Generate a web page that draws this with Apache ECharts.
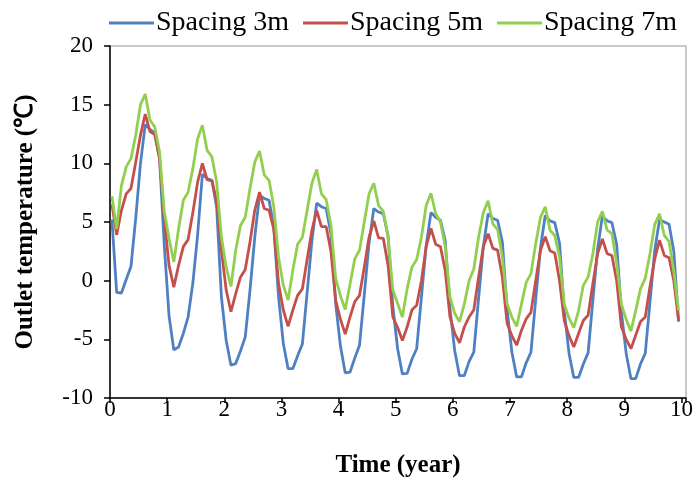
<!DOCTYPE html>
<html>
<head>
<meta charset="utf-8">
<script src="https://cdn.jsdelivr.net/npm/echarts@6/dist/echarts.min.js"></script>
<style>
  html, body { margin: 0; padding: 0; background: #fff; }
  #chart { width: 699px; height: 484px; }
</style>
</head>
<body>
<div id="chart"></div>
<script>
// Monthly outlet temperature (°C) over ten years of operation, for three borehole spacings.
const seriesNames = ['Spacing 3m', 'Spacing 5m', 'Spacing 7m'];
const xTicks = [0, 1, 2, 3, 4, 5, 6, 7, 8, 9, 10];
const yTicks = [-10, -5, 0, 5, 10, 15, 20];

// month index 0..119
const monthIndex = Array.from({ length: 120 }, (_, i) => i);

const spacing3m = [
  5.2, -1.0, -1.05, 0.1, 1.2, 5.3, 10.0, 13.3, 12.9, 12.6, 10.5, 3.0,
  -3.0, -5.9, -5.65, -4.5, -3.1, -0.2, 3.9, 9.07, 8.7, 8.56, 6.25, -1.4,
  -5.1, -7.2, -7.07, -6.0, -4.8, -0.8, 3.7, 7.3, 7.0, 6.85, 4.6, -1.4,
  -5.35, -7.5, -7.5, -6.4, -5.4, -1.0, 3.4, 6.6, 6.3, 6.15, 4.0, -2.0,
  -5.6, -7.85, -7.8, -6.6, -5.5, -1.2, 3.2, 6.15, 5.85, 5.7, 3.8, -2.2,
  -5.8, -7.95, -7.9, -6.7, -5.8, -1.4, 3.0, 5.8, 5.4, 5.15, 3.4, -2.4,
  -6.0, -8.1, -8.1, -6.9, -6.1, -1.5, 2.9, 5.7, 5.3, 5.15, 3.3, -2.5,
  -6.1, -8.2, -8.2, -7.0, -6.1, -1.6, 2.8, 5.55, 5.1, 4.95, 3.2, -2.6,
  -6.2, -8.25, -8.25, -7.1, -6.15, -1.7, 2.7, 5.5, 5.1, 4.95, 3.1, -2.7,
  -6.2, -8.35, -8.35, -7.1, -6.2, -1.8, 2.6, 5.2, 5.0, 4.8, 2.5, -3.5
];

const spacing5m = [
  6.5, 3.9, 6.0, 7.4, 7.85, 10.1, 12.4, 14.2, 12.7, 12.45, 10.4, 5.3,
  1.3, -0.55, 1.3, 2.9, 3.5, 5.8, 8.4, 10.0, 8.6, 8.5, 6.8, 2.6,
  -0.8, -2.65, -1.1, 0.3, 0.95, 3.3, 6.0, 7.55, 6.15, 6.0, 4.4, -0.25,
  -2.5, -3.9, -2.5, -1.25, -0.7, 1.8, 4.3, 6.0, 4.6, 4.6, 2.5, -1.7,
  -3.3, -4.55, -3.1, -1.8, -1.25, 1.15, 3.7, 5.1, 3.65, 3.6, 1.3, -3.1,
  -4.0, -5.1, -3.95, -2.5, -2.1, 0.0, 2.9, 4.45, 3.1, 2.9, 0.85, -3.1,
  -4.5, -5.3, -3.95, -3.1, -2.5, 0.3, 2.9, 4.0, 2.75, 2.6, 0.3, -3.65,
  -4.7, -5.5, -4.25, -3.25, -2.7, 0.0, 2.6, 3.75, 2.55, 2.35, 0.0, -3.4,
  -4.7, -5.65, -4.5, -3.4, -2.95, -0.25, 2.3, 3.55, 2.3, 2.15, 0.0, -3.95,
  -5.0, -5.8, -4.65, -3.5, -3.1, -0.5, 1.85, 3.45, 2.15, 1.95, 0.0, -3.4
];

const spacing7m = [
  7.2, 4.4, 8.1, 9.7, 10.4, 12.4, 15.0, 15.9, 13.7, 13.1, 11.0, 5.9,
  3.6, 1.6, 4.4, 6.85, 7.55, 9.55, 12.1, 13.25, 11.1, 10.55, 8.4, 3.7,
  1.15, -0.5, 2.6, 4.7, 5.4, 7.85, 10.1, 11.05, 9.0, 8.55, 6.3, 2.0,
  -0.4, -1.65, 0.9, 3.1, 3.7, 6.0, 8.3, 9.47, 7.4, 6.9, 4.7, 0.2,
  -1.3, -2.45, -0.3, 1.85, 2.6, 5.0, 7.4, 8.3, 6.4, 5.9, 3.7, -0.8,
  -1.95, -3.1, -0.7, 1.15, 1.8, 3.7, 6.4, 7.45, 5.7, 5.0, 2.9, -1.4,
  -2.8, -3.5, -2.0, 0.0, 1.0, 3.7, 5.8, 6.8, 4.85, 4.35, 2.0, -2.0,
  -3.1, -3.9, -2.0, -0.15, 0.6, 3.15, 5.4, 6.3, 4.3, 3.85, 2.0, -2.0,
  -3.2, -4.0, -2.55, -0.4, 0.3, 2.3, 5.0, 5.9, 4.3, 4.0, 1.5, -2.0,
  -3.3, -4.3, -2.55, -0.7, 0.2, 2.3, 4.8, 5.7, 3.85, 3.35, 0.8, -2.55
];

const colors = ['#4F81C2', '#C4504D', '#92CF50'];
const FONT = '"Liberation Serif", "Times New Roman", serif';

// sample time in years (monthly values, sampled a little into each month)
const timeYears = monthIndex.map(m => (m + 0.4) / 12);
const toPairs = vals => vals.map((v, i) => [timeYears[i], v]);

const chart = echarts.init(document.getElementById('chart'), null, { renderer: 'canvas' });

chart.setOption({
  animation: false,
  backgroundColor: '#ffffff',
  color: colors,
  textStyle: { fontFamily: FONT, color: '#000' },
  legend: {
    data: seriesNames,
    left: 104,
    top: 4,
    itemWidth: 45,
    itemHeight: 3,
    itemGap: 14,
    icon: 'rect',
    textStyle: { fontFamily: FONT, fontSize: 28, color: '#000', padding: [0, 0, 0, -3] }
  },
  grid: {
    left: 110,
    right: 13,
    top: 46,
    bottom: 86,
    show: true,
    borderColor: '#B8B8B8',
    borderWidth: 1.5,
    containLabel: false
  },
  xAxis: {
    type: 'value',
    min: xTicks[0],
    max: 10.08,
    interval: 1,
    name: 'Time (year)',
    nameLocation: 'middle',
    nameGap: 55,
    nameTextStyle: { fontFamily: FONT, fontSize: 25, fontWeight: 'bold', color: '#000' },
    axisLine: { show: true, onZero: false, lineStyle: { color: '#000', width: 1.5 } },
    axisTick: { show: true, inside: false, length: 5, lineStyle: { color: '#000', width: 1.5 } },
    axisLabel: {
      fontFamily: FONT, fontSize: 23, color: '#000', margin: 0,
      formatter: v => (xTicks.indexOf(v) >= 0 ? String(v) : '')
    },
    splitLine: { show: false }
  },
  yAxis: {
    type: 'value',
    min: yTicks[0],
    max: yTicks[yTicks.length - 1],
    interval: 5,
    name: 'Outlet temperature (℃)',
    nameLocation: 'middle',
    nameGap: 72,
    nameTextStyle: { fontFamily: FONT, fontSize: 25, fontWeight: 'bold', color: '#000' },
    axisLine: { show: true, onZero: false, lineStyle: { color: '#000', width: 1.5 } },
    axisTick: { show: true, inside: false, length: 6, lineStyle: { color: '#000', width: 1.5 } },
    axisLabel: { fontFamily: FONT, fontSize: 23, color: '#000', margin: 17 },
    splitLine: { show: false }
  },
  series: [
    { name: seriesNames[0], type: 'line', data: toPairs(spacing3m), symbol: 'none', lineStyle: { width: 2.8, color: colors[0] } },
    { name: seriesNames[1], type: 'line', data: toPairs(spacing5m), symbol: 'none', lineStyle: { width: 2.8, color: colors[1] } },
    { name: seriesNames[2], type: 'line', data: toPairs(spacing7m), symbol: 'none', lineStyle: { width: 2.8, color: colors[2] } }
  ]
});
</script>
</body>
</html>
